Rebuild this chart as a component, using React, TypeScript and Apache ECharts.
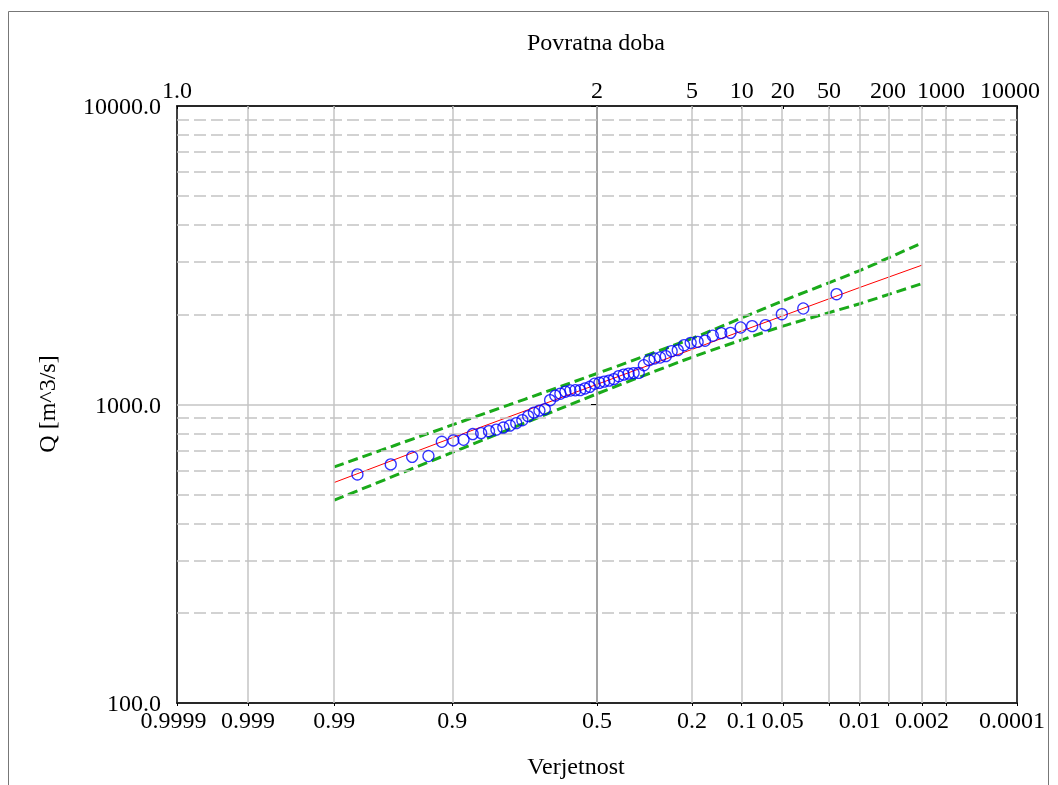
import React, { useEffect, useRef } from "react";
import * as echarts from "echarts";

// Observed annual maxima (m^3/s), sorted descending (rank 1 = largest)
const obsQ = [2342, 2097, 2007, 1844, 1830, 1811, 1738, 1734, 1700, 1636, 1621, 1609, 1580, 1521, 1509, 1452, 1437, 1426, 1408, 1354, 1276, 1274, 1269, 1259, 1244, 1216, 1202, 1193, 1182, 1174, 1146, 1132, 1117, 1116, 1114, 1104, 1087, 1071, 1034, 965, 954, 939, 914, 886, 866, 850, 837, 824, 814, 802, 796, 762, 758, 750, 672, 668, 630, 583];

// Fitted distribution (red)
const fitP = [0.99, 0.9, 0.5, 0.2, 0.1, 0.05, 0.01, 0.002];
const fitQ = [548, 774, 1168, 1530, 1763, 1981, 2466, 2930];

// Confidence limits (green dashed)
const bandP = [0.99, 0.9, 0.5, 0.2, 0.05, 0.01, 0.002];
const upperQ = [618, 854, 1270, 1665, 2224, 2811, 3478];
const lowerQ = [478, 691, 1086, 1440, 1830, 2176, 2543];

// Axis ticks / labels
const bottomTickP = [0.9999, 0.999, 0.99, 0.9, 0.5, 0.2, 0.1, 0.05, 0.02, 0.01, 0.005, 0.002, 0.001, 0.0001];
const bottomLabelP = [0.9999, 0.999, 0.99, 0.9, 0.5, 0.2, 0.1, 0.05, 0.01, 0.002, 0.0001];
const bottomLabels = ["0.9999", "0.999", "0.99", "0.9", "0.5", "0.2", "0.1", "0.05", "0.01", "0.002", "0.0001"];
const topLabelP = [0.9999, 0.5, 0.2, 0.1, 0.05, 0.02, 0.005, 0.001, 0.0001];
const topLabels = ["1.0", "2", "5", "10", "20", "50", "200", "1000", "10000"];
const gridP = [0.999, 0.99, 0.9, 0.5, 0.2, 0.1, 0.05, 0.02, 0.01, 0.005, 0.002, 0.001];
const yMinorGrid = [200, 300, 400, 500, 600, 700, 800, 900, 2000, 3000, 4000, 5000, 6000, 7000, 8000, 9000];

function normInv(p: number): number {
  const a = [-3.969683028665376e1, 2.209460984245205e2, -2.759285104469687e2, 1.38357751867269e2, -3.066479806614716e1, 2.506628277459239];
  const b = [-5.447609879822406e1, 1.615858368580409e2, -1.556989798598866e2, 6.680131188771972e1, -1.328068155288572e1];
  const c = [-7.784894002430293e-3, -3.223964580411365e-1, -2.400758276161838, -2.549671348850382, 4.374664141464968, 2.938163982698783];
  const d = [7.784695709041462e-3, 3.224671290700398e-1, 2.445134137142996, 3.754408661907416];
  const plow = 0.02425;
  if (p < plow) {
    const q = Math.sqrt(-2 * Math.log(p));
    return (((((c[0] * q + c[1]) * q + c[2]) * q + c[3]) * q + c[4]) * q + c[5]) / ((((d[0] * q + d[1]) * q + d[2]) * q + d[3]) * q + 1);
  }
  if (p <= 1 - plow) {
    const q = p - 0.5;
    const r = q * q;
    return ((((((a[0] * r + a[1]) * r + a[2]) * r + a[3]) * r + a[4]) * r + a[5]) * q) / (((((b[0] * r + b[1]) * r + b[2]) * r + b[3]) * r + b[4]) * r + 1);
  }
  const q = Math.sqrt(-2 * Math.log(1 - p));
  return -(((((c[0] * q + c[1]) * q + c[2]) * q + c[3]) * q + c[4]) * q + c[5]) / ((((d[0] * q + d[1]) * q + d[2]) * q + d[3]) * q + 1);
}
// exceedance probability -> normal reduced variate
const zOf = (p: number) => normInv(1 - p);

const FONT = "Liberation Serif";
const FS = 24;

export default function App() {
  const ref = useRef<HTMLDivElement>(null);
  useEffect(() => {
    if (!ref.current) return;
    const chart = echarts.init(ref.current, null, { renderer: "svg" });
    const zMin = zOf(0.9999);
    const zMax = zOf(0.0001);
    const n = obsQ.length;
    const bottomLabelZ = bottomLabelP.map(zOf);
    const topLabelZ = topLabelP.map(zOf);
    // rich-text styles that nudge crowded labels leftwards (right padding in a centred box)
    const rich = {
      a: { fontFamily: FONT, fontSize: FS, color: "#000" },
      s7: { fontFamily: FONT, fontSize: FS, color: "#000", padding: [0, 7, 0, 0] },
      s10: { fontFamily: FONT, fontSize: FS, color: "#000", padding: [0, 10, 0, 0] },
      s14: { fontFamily: FONT, fontSize: FS, color: "#000", padding: [0, 14, 0, 0] },
    };
    const findLabel = (zs: number[], labels: string[], styles: Record<string, string>) => (v: number) => {
      let best = 0;
      for (let i = 1; i < zs.length; i++) if (Math.abs(zs[i] - v) < Math.abs(zs[best] - v)) best = i;
      const lab = labels[best];
      return `{${styles[lab] || "a"}|${lab}}`;
    };
    const textStyle = { fontFamily: FONT, fontSize: FS, color: "#000" };
    const gridColor = "#c4c4c4";

    chart.setOption({
      animation: false,
      textStyle: { fontFamily: FONT },
      grid: { left: 177, right: 41, top: 106, bottom: 82, show: true, borderColor: "#000", borderWidth: 1.5, backgroundColor: "transparent" },
      xAxis: [
        {
          type: "value",
          position: "bottom",
          min: zMin,
          max: zMax,
          axisLine: { show: true, lineStyle: { color: "#000", width: 1.5 } },
          axisTick: { show: true, inside: false, length: 3, customValues: bottomTickP.map(zOf), lineStyle: { color: "#000" } },
          axisLabel: {
            show: true,
            customValues: bottomLabelZ,
            formatter: findLabel(bottomLabelZ, bottomLabels, { "0.9999": "s7", "0.0001": "s10" }),
            margin: 5,
            rich,
            ...textStyle,
          },
          splitLine: { show: false },
        },
        {
          type: "value",
          position: "top",
          min: zMin,
          max: zMax,
          axisLine: { show: true, lineStyle: { color: "#000", width: 1.5 } },
          axisTick: { show: true, inside: true, length: 3, customValues: bottomTickP.map(zOf), lineStyle: { color: "#000" } },
          axisLabel: {
            show: true,
            customValues: topLabelZ,
            formatter: findLabel(topLabelZ, topLabels, { "1000": "s10", "10000": "s14" }),
            margin: 4,
            rich,
            ...textStyle,
          },
          splitLine: { show: false },
        },
      ],
      yAxis: [
        {
          type: "log",
          logBase: 10,
          min: 100,
          max: 10000,
          axisLine: { show: true, lineStyle: { color: "#000", width: 1.5 } },
          axisTick: { show: true, length: 6, lineStyle: { color: "#000" } },
          axisLabel: { formatter: (v: number) => v.toFixed(1), margin: 16, ...textStyle },
          splitLine: { show: true, lineStyle: { color: gridColor, width: 1.5 } },
          minorTick: { show: false },
        },
      ],
      graphic: [
        { type: "rect", shape: { x: 8.5, y: 11.5, width: 1040, height: 820 }, style: { fill: "none", stroke: "#777", lineWidth: 1 }, silent: true, z: -10 },
        { type: "text", x: 596, y: 42, style: { text: "Povratna doba", font: `${FS}px "${FONT}"`, fill: "#000", textAlign: "center", textVerticalAlign: "middle" } },
        { type: "text", x: 576, y: 766, style: { text: "Verjetnost", font: `${FS}px "${FONT}"`, fill: "#000", textAlign: "center", textVerticalAlign: "middle" } },
        { type: "text", x: 47, y: 404, rotation: Math.PI / 2, style: { text: "Q [m^3/s]", font: `${FS}px "${FONT}"`, fill: "#000", textAlign: "center", textVerticalAlign: "middle" } },
      ],
      series: [
        {
          name: "grid",
          type: "line",
          data: [],
          silent: true,
          z: 1,
          markLine: {
            silent: true,
            symbol: "none",
            label: { show: false },
            emphasis: { disabled: true },
            data: [
              ...gridP.map((p) => ({ xAxis: zOf(p), lineStyle: { color: gridColor, width: 1.5, type: "solid" } })),
              ...yMinorGrid.map((v) => ({ yAxis: v, lineStyle: { color: gridColor, width: 1.5, type: [12, 5] } })),
            ],
          },
        },
        {
          name: "upper",
          type: "line",
          z: 3,
          showSymbol: false,
          smooth: 0.2,
          data: bandP.map((p, i) => [zOf(p), upperQ[i]]),
          lineStyle: { color: "#1aaa1a", width: 3, type: [10, 5] },
        },
        {
          name: "lower",
          type: "line",
          z: 3,
          showSymbol: false,
          smooth: 0.2,
          data: bandP.map((p, i) => [zOf(p), lowerQ[i]]),
          lineStyle: { color: "#1aaa1a", width: 3, type: [10, 5] },
        },
        {
          name: "fit",
          type: "line",
          z: 4,
          showSymbol: false,
          data: fitP.map((p, i) => [zOf(p), fitQ[i]]),
          lineStyle: { color: "#ff0000", width: 1 },
        },
        {
          name: "obs",
          type: "scatter",
          z: 5,
          symbol: "circle",
          symbolSize: 11,
          data: obsQ.map((q, i) => [zOf((i + 1) / (n + 1)), q]),
          itemStyle: { color: "rgba(0,0,0,0)", borderColor: "#0000ff", borderWidth: 1.3 },
        },
      ],
    });
    return () => chart.dispose();
  }, []);
  return <div ref={ref} style={{ position: "fixed", left: 0, top: 0, width: 1058, height: 785 }} />;
}
